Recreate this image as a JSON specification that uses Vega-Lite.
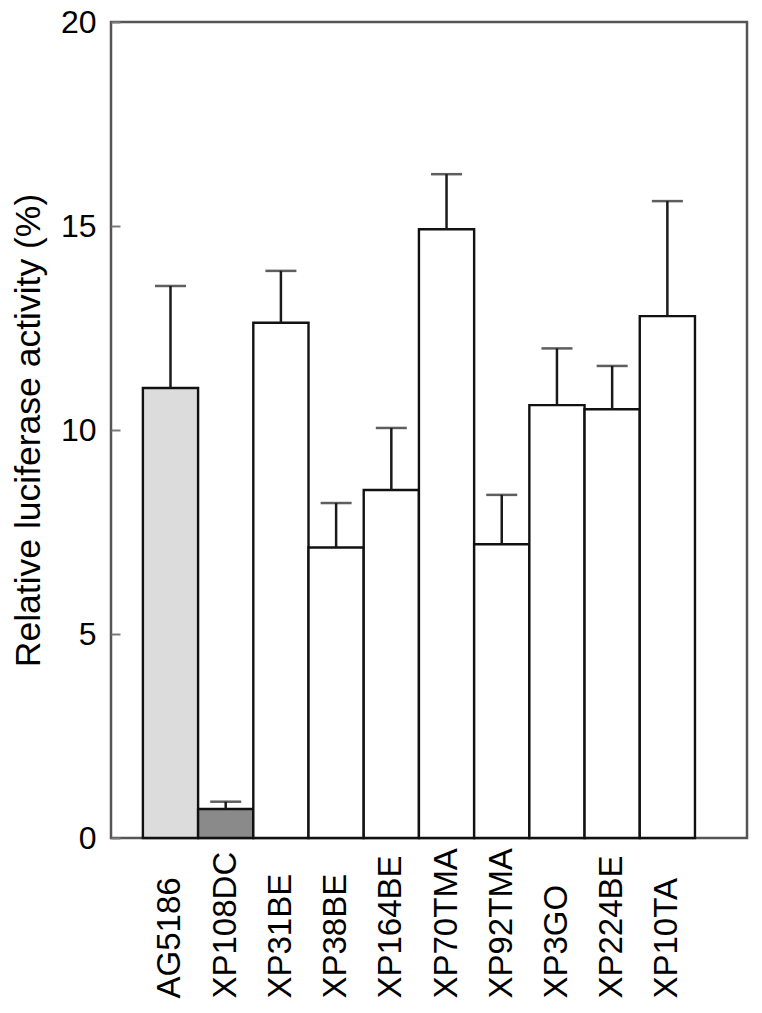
{
  "$schema": "https://vega.github.io/schema/vega-lite/v6.json",
  "width": 636,
  "height": 816,
  "autosize": {"type": "none"},
  "padding": {"left": 111, "top": 22, "right": 15, "bottom": 175},
  "background": "white",
  "config": {
    "font": "Liberation Sans",
    "view": {"stroke": "#555555", "strokeWidth": 2.5},
    "axisY": {"ticks": true, "tickSize": 9, "tickColor": "#7a7a7a", "tickWidth": 2}
  },
  "data": {
    "values": [
      {"line": "AG5186", "group": "control", "activity": 11.03, "upper": 13.53},
      {"line": "XP108DC", "group": "xp108", "activity": 0.71, "upper": 0.89},
      {"line": "XP31BE", "group": "other", "activity": 12.63, "upper": 13.9},
      {"line": "XP38BE", "group": "other", "activity": 7.12, "upper": 8.21},
      {"line": "XP164BE", "group": "other", "activity": 8.53, "upper": 10.05},
      {"line": "XP70TMA", "group": "other", "activity": 14.92, "upper": 16.27},
      {"line": "XP92TMA", "group": "other", "activity": 7.2, "upper": 8.41},
      {"line": "XP3GO", "group": "other", "activity": 10.61, "upper": 12.0},
      {"line": "XP224BE", "group": "other", "activity": 10.51, "upper": 11.57},
      {"line": "XP10TA", "group": "other", "activity": 12.79, "upper": 15.61}
    ]
  },
  "encoding": {
    "x": {
      "field": "line",
      "type": "nominal",
      "sort": null,
      "scale": {"paddingInner": 0, "paddingOuter": 0.76, "align": 0.38},
      "axis": {
        "title": null,
        "domain": false,
        "ticks": false,
        "labelAngle": -90,
        "labelAlign": "left",
        "labelBaseline": "middle",
        "labelPadding": 160,
        "labelFontSize": 33,
        "labelColor": "#000000",
        "labelLimit": 300
      }
    },
    "y": {
      "field": "activity",
      "type": "quantitative",
      "scale": {"domain": [0, 20], "nice": false},
      "axis": {
        "title": "Relative luciferase activity (%)",
        "titleFontSize": 35.5,
        "titleFontWeight": "normal",
        "titleColor": "#000000",
        "titlePadding": 14,
        "values": [0, 5, 10, 15, 20],
        "grid": false,
        "domain": false,
        "zindex": 2,
        "offset": -9,
        "labelPadding": 15,
        "labelFontSize": 32,
        "labelColor": "#000000"
      }
    }
  },
  "layer": [
    {
      "mark": {"type": "bar", "stroke": "#111111", "strokeWidth": 2.4},
      "encoding": {
        "fill": {
          "field": "group",
          "type": "nominal",
          "scale": {"domain": ["control", "xp108", "other"], "range": ["#dcdcdc", "#8a8a8a", "#ffffff"]},
          "legend": null
        }
      }
    },
    {
      "mark": {"type": "rule", "stroke": "#1a1a1a", "strokeWidth": 2.5},
      "encoding": {
        "y2": {"field": "upper"}
      }
    },
    {
      "mark": {"type": "tick", "color": "#1a1a1a", "size": 31, "thickness": 2.5, "orient": "horizontal"},
      "encoding": {
        "y": {"field": "upper", "type": "quantitative"}
      }
    }
  ]
}
